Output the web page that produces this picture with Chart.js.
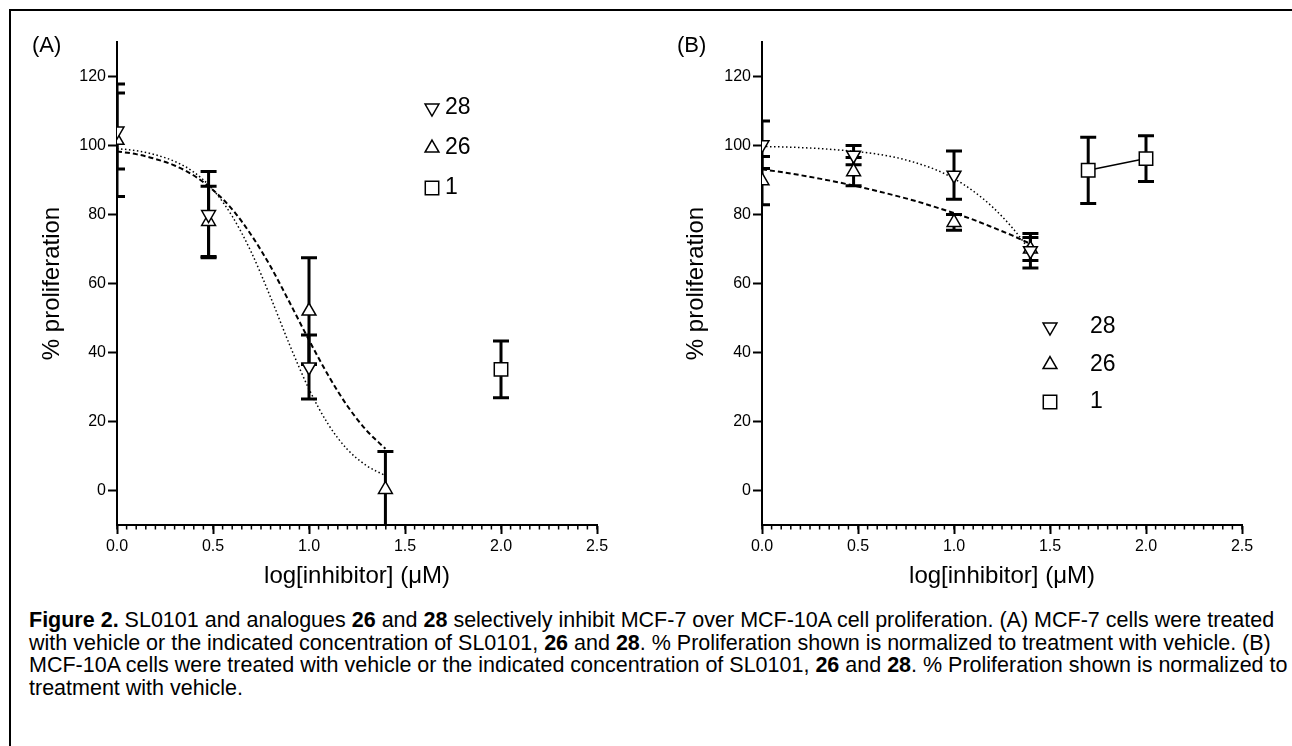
<!DOCTYPE html>
<html>
<head>
<meta charset="utf-8">
<script src="https://cdn.jsdelivr.net/npm/chart.js@4.4.1/dist/chart.umd.min.js"></script>
<style>
body { margin: 0; background: #fff; font-family: 'Liberation Sans', Arial, sans-serif; }
#page { position: relative; width: 1292px; height: 746px; overflow: hidden; background: #fff; }
#frame { position: absolute; left: 9px; top: 9px; width: 1300px; height: 760px; border-left: 2px solid #000; border-top: 2px solid #000; }
.panel { position: absolute; top: 0; }
.tag { position: absolute; font-size: 22px; color: #000; }
#caption { position: absolute; left: 29px; top: 609px; font-size: 21.5px; line-height: 22.5px; white-space: nowrap; color: #000; }
</style>
</head>
<body>
<div id="page">
  <div id="frame"></div>
  <div class="panel" style="left:0px"><canvas id="chartA" width="640" height="600"></canvas></div>
  <div class="panel" style="left:640px"><canvas id="chartB" width="652" height="600"></canvas></div>
  <div class="tag" style="left:32px;top:32px">(A)</div>
  <div class="tag" style="left:677px;top:32px">(B)</div>
  <div id="caption">
    <b>Figure 2.</b> SL0101 and analogues <b>26</b> and <b>28</b> selectively inhibit MCF-7 over MCF-10A cell proliferation. (A) MCF-7 cells were treated<br>
    with vehicle or the indicated concentration of SL0101, <b>26</b> and <b>28</b>. % Proliferation shown is normalized to treatment with vehicle. (B)<br>
    MCF-10A cells were treated with vehicle or the indicated concentration of SL0101, <b>26</b> and <b>28</b>. % Proliferation shown is normalized to<br>
    treatment with vehicle.
  </div>
</div>
<script>
// axis ticks
var xTicks = [0, 0.5, 1.0, 1.5, 2.0, 2.5];
var yTicks = [0, 20, 40, 60, 80, 100, 120];
var minorStep = 0.05;

// log[inhibitor] doses
var logDose = [0, 0.477, 1.0, 1.398];

// (A) MCF-7
var a28 = [104.2, 80.0, 35.8];
var a28err = [11.0, 12.5, 9.3];
var a26 = [101.5, 78.0, 52.0, 0.3];
var a26err = [16.3, 10.2, 15.5, 11.0];
var a1x = [2.0];
var a1 = [35.1];
var a1err = [8.2];

// (B) MCF-10A
var b28 = [100.2, 97.2, 91.4, 69.5];
var b28err = [6.9, 2.8, 7.0, 5.0];
var b26 = [89.8, 92.4, 77.7, 70.0];
var b26err = [7.0, 4.1, 2.3, 3.3];
var b1x = [1.699, 2.0];
var b1 = [92.8, 96.2];
var b1err = [9.6, 6.6];

// fitted curves
var fitX = [0, 0.1, 0.2, 0.3, 0.4, 0.5, 0.6, 0.7, 0.8, 0.9, 1.0, 1.1, 1.2, 1.3, 1.398];
var fitA28 = [99.1, 98.5, 97.3, 95.4, 92.3, 87.2, 79.5, 69.0, 56.0, 42.1, 29.4, 19.2, 11.9, 7.2, 4.3];
var fitA26 = [98.3, 97.5, 96.1, 94.2, 91.3, 87.1, 81.5, 74.0, 64.9, 54.4, 43.6, 33.4, 24.5, 17.4, 12.1];
var fitB28 = [99.7, 99.6, 99.4, 99.1, 98.7, 98.2, 97.5, 96.5, 95.0, 93.1, 90.4, 86.8, 82.2, 76.4, 69.5];
var fitB26 = [93.1, 92.3, 91.4, 90.4, 89.3, 88.1, 86.8, 85.4, 83.9, 82.2, 80.4, 78.5, 76.3, 74.0, 71.5];

Chart.defaults.font.family = "'Liberation Sans', Arial, sans-serif";
Chart.defaults.color = '#000';

function pts(xs, ys) {
    return ys.map(function (y, i) { return { x: xs[i], y: y }; });
}

function markerSet(label, xs, ys, errs, style, rot, r, line) {
    return {
        label: label,
        data: pts(xs, ys),
        errors: errs,
        showLine: !!line,
        borderColor: '#000',
        borderWidth: 1.5,
        pointStyle: style,
        pointRotation: rot,
        pointRadius: r,
        pointHoverRadius: r,
        pointBackgroundColor: '#fff',
        pointBorderColor: '#000',
        pointBorderWidth: 1.5
    };
}

function curveSet(ys, dash, w) {
    return {
        data: pts(fitX, ys),
        showLine: true,
        pointRadius: 0,
        borderColor: '#000',
        borderWidth: w,
        borderDash: dash,
        cubicInterpolationMode: 'monotone'
    };
}

// error bars under the markers
var errorBars = {
    id: 'errorBars',
    beforeDatasetsDraw: function (chart) {
        var ctx = chart.ctx, a = chart.chartArea, ys = chart.scales.y;
        ctx.save();
        ctx.beginPath();
        ctx.rect(a.left, a.top, a.right - a.left, a.bottom - a.top);
        ctx.clip();
        ctx.strokeStyle = '#000';
        ctx.lineWidth = 3;
        chart.data.datasets.forEach(function (ds, i) {
            if (!ds.errors) return;
            chart.getDatasetMeta(i).data.forEach(function (pt, j) {
                var v = ds.data[j].y, e = ds.errors[j];
                var top = ys.getPixelForValue(v + e), bot = ys.getPixelForValue(v - e);
                ctx.beginPath();
                ctx.moveTo(pt.x, top); ctx.lineTo(pt.x, bot);
                ctx.moveTo(pt.x - 8, top); ctx.lineTo(pt.x + 8, top);
                ctx.moveTo(pt.x - 8, bot); ctx.lineTo(pt.x + 8, bot);
                ctx.stroke();
            });
        });
        ctx.restore();
    }
};

var minorTicks = {
    id: 'minorTicks',
    afterDraw: function (chart) {
        var xs = chart.scales.x, ctx = chart.ctx, b = chart.chartArea.bottom;
        var n = Math.round((xs.max - xs.min) / minorStep);
        ctx.save();
        ctx.strokeStyle = '#000';
        ctx.lineWidth = 1.5;
        for (var i = 0; i <= n; i++) {
            var px = xs.getPixelForValue(xs.min + i * minorStep);
            ctx.beginPath();
            ctx.moveTo(px, b);
            ctx.lineTo(px, b + 4.5);
            ctx.stroke();
        }
        ctx.restore();
    }
};

var markerLegend = {
    id: 'markerLegend',
    afterDraw: function (chart, args, opts) {
        var ctx = chart.ctx, row = 0;
        ctx.save();
        ctx.font = "23px 'Liberation Sans', Arial, sans-serif";
        ctx.textBaseline = 'middle';
        chart.data.datasets.forEach(function (ds) {
            if (!ds.errors) return;
            var y = opts.y + row * opts.gap;
            ctx.fillStyle = '#fff';
            ctx.strokeStyle = '#000';
            ctx.lineWidth = ds.pointBorderWidth;
            Chart.helpers.drawPoint(ctx, {
                pointStyle: ds.pointStyle,
                rotation: ds.pointRotation,
                radius: ds.pointRadius,
                borderWidth: ds.pointBorderWidth
            }, opts.x, y);
            ctx.fillStyle = '#000';
            ctx.fillText(ds.label, opts.textX, y);
            row++;
        });
        ctx.restore();
    }
};

function makePanel(id, datasets, axisLeft, padRight, titleGap, legend) {
    return new Chart(document.getElementById(id), {
        type: 'scatter',
        data: { datasets: datasets },
        plugins: [errorBars, minorTicks, markerLegend],
        options: {
            responsive: false,
            animation: false,
            events: [],
            layout: { padding: { left: 0, top: 42, right: padRight, bottom: 0 } },
            plugins: {
                legend: { display: false },
                tooltip: { enabled: false },
                markerLegend: legend
            },
            scales: {
                x: {
                    type: 'linear',
                    min: 0,
                    max: 2.5,
                    afterBuildTicks: function (s) { s.ticks = xTicks.map(function (v) { return { value: v }; }); },
                    afterFit: function (s) { s.height = 75; },
                    ticks: { callback: function (v) { return v.toFixed(1); }, font: { size: 16 }, padding: 3, maxRotation: 0 },
                    grid: { drawOnChartArea: false, drawTicks: true, tickLength: 9, tickWidth: 2, tickColor: '#000' },
                    border: { display: true, color: '#000', width: 2 },
                    title: { display: true, text: 'log[inhibitor] (\u03bcM)', font: { size: 24 }, padding: { top: 4, bottom: 9 } }
                },
                y: {
                    type: 'linear',
                    min: -10,
                    max: 130,
                    afterBuildTicks: function (s) { s.ticks = yTicks.map(function (v) { return { value: v }; }); },
                    afterFit: function (s) { s.width = axisLeft; },
                    ticks: { font: { size: 16 }, padding: 2 },
                    grid: { drawOnChartArea: false, drawTicks: true, tickLength: 9, tickWidth: 2, tickColor: '#000' },
                    border: { display: true, color: '#000', width: 2 },
                    title: { display: true, text: '% proliferation', font: { size: 24 }, padding: { top: titleGap, bottom: 4 } }
                }
            }
        }
    });
}

makePanel('chartA', [
    markerSet('28', logDose, a28, a28err, 'triangle', 180, 8),
    markerSet('26', logDose, a26, a26err, 'triangle', 0, 8),
    markerSet('1', a1x, a1, a1err, 'rect', 0, 9.5),
    curveSet(fitA28, [1.5, 2.5], 1.5),
    curveSet(fitA26, [5, 3], 2)
], 117, 43, 38, { x: 432, y: 108, gap: 40, textX: 445 });

makePanel('chartB', [
    markerSet('28', logDose, b28, b28err, 'triangle', 180, 8),
    markerSet('26', logDose, b26, b26err, 'triangle', 0, 8),
    markerSet('1', b1x, b1, b1err, 'rect', 0, 9.5, true),
    curveSet(fitB28, [1.5, 2.5], 1.5),
    curveSet(fitB26, [5, 3], 2)
], 122, 50, 42, { x: 410, y: 327, gap: 37.5, textX: 450 });
</script>
</body>
</html>
